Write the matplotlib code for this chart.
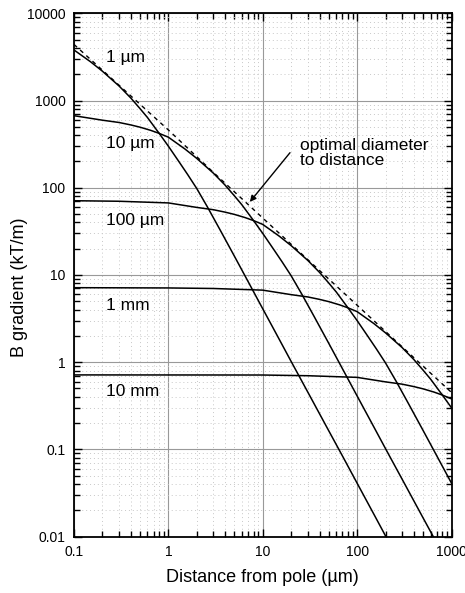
import matplotlib
matplotlib.use('Agg')
import matplotlib.pyplot as plt
from matplotlib.ticker import FixedLocator, LogLocator, NullFormatter

plt.rcParams['font.family'] = ['Liberation Sans', 'DejaVu Sans']

# values (distance in um, gradient in kT/m)
x_1um = [0.1, 0.15, 0.2, 0.3, 0.4, 0.5, 0.6, 0.8, 1.0, 1.3, 1.6, 2.0, 2.6, 3.5, 5, 7, 10, 14, 20, 30, 50, 70, 100, 150, 200, 220]
y_1um = [3800, 2780, 2170, 1470, 1070, 810, 640, 420, 300, 198, 142, 98, 60, 33.5, 16.5, 8.4, 4.1, 2.09, 1.02, 0.455, 0.164, 0.084, 0.041, 0.0182, 0.0102, 0.0085]

x_10um = [0.1, 0.2, 0.3, 0.4, 0.5, 0.65, 0.8, 1.0, 1.5, 2, 3, 4, 5, 6, 8, 10, 13, 16, 20, 26, 35, 50, 70, 100, 140, 200, 300, 500, 700]
y_10um = [670, 595, 560, 525, 495, 455, 420, 380, 278, 217, 147, 107, 81, 64, 42, 30, 19.8, 14.2, 9.8, 6.0, 3.35, 1.65, 0.84, 0.41, 0.209, 0.102, 0.0455, 0.0164, 0.0084]

x_100um = [0.1, 0.3, 1, 2, 3, 4, 5, 6.5, 8, 10, 15, 20, 30, 40, 50, 60, 80, 100, 130, 160, 200, 260, 350, 500, 700, 1000]
y_100um = [71, 70, 67, 59.5, 56, 52.5, 49.5, 45.5, 42, 38, 27.8, 21.7, 14.7, 10.7, 8.1, 6.4, 4.2, 3.0, 1.98, 1.42, 0.98, 0.60, 0.335, 0.165, 0.084, 0.041]

x_1mm = [0.1, 1, 3, 10, 20, 30, 40, 50, 65, 80, 100, 150, 200, 300, 400, 500, 600, 800, 1000]
y_1mm = [7.15, 7.1, 7.0, 6.7, 5.95, 5.6, 5.25, 4.95, 4.55, 4.2, 3.8, 2.78, 2.17, 1.47, 1.07, 0.81, 0.64, 0.42, 0.30]

x_10mm = [0.1, 10, 30, 100, 200, 300, 400, 500, 650, 800, 1000]
y_10mm = [0.715, 0.713, 0.70, 0.67, 0.595, 0.56, 0.525, 0.495, 0.455, 0.42, 0.38]

x_opt = [0.1, 0.3, 1, 3, 10, 30, 100, 300, 1000]
y_opt = [4400, 1500, 460, 150, 45, 15, 4.5, 1.5, 0.45]

curve_labels = ['1 µm', '10 µm', '100 µm', '1 mm', '10 mm']
label_y = [3100, 320, 42, 4.45, 0.46]

xticks = [0.1, 1, 10, 100, 1000]
xtick_labels = ['0.1', '1', '10', '100', '1000']
yticks = [0.01, 0.1, 1, 10, 100, 1000, 10000]
ytick_labels = ['0.01', '0.1', '1', '10', '100', '1000', '10000']

fig = plt.figure(figsize=(4.65, 5.93), dpi=100)
ax = fig.add_axes([0.159, 0.095, 0.812, 0.8826])

for xs, ys in [(x_1um, y_1um), (x_10um, y_10um), (x_100um, y_100um),
               (x_1mm, y_1mm), (x_10mm, y_10mm)]:
    ax.plot(xs, ys, color='black', lw=1.1)
ax.plot(x_opt, y_opt, color='black', lw=1.0, linestyle=(0, (3, 3)))

ax.set_xscale('log')
ax.set_yscale('log')
ax.set_xlim(0.1, 1000)
ax.set_ylim(0.01, 10000)

ax.xaxis.set_major_locator(FixedLocator(xticks))
ax.set_xticklabels(xtick_labels)
ax.yaxis.set_major_locator(FixedLocator(yticks))
ax.set_yticklabels(ytick_labels)
ax.xaxis.set_minor_locator(LogLocator(base=10, subs=range(2, 10)))
ax.yaxis.set_minor_locator(LogLocator(base=10, subs=range(2, 10)))
ax.xaxis.set_minor_formatter(NullFormatter())
ax.yaxis.set_minor_formatter(NullFormatter())

ax.tick_params(which='both', direction='in', top=True, right=True, labelsize=10, width=1)
ax.tick_params(which='major', length=6, pad=6)
ax.tick_params(which='minor', length=4)

ax.grid(which='major', color='#999999', lw=0.8)
ax.grid(which='minor', color='#c8c8c8', lw=0.7, linestyle=(0, (1, 3)))
ax.set_axisbelow(True)
for s in ax.spines.values():
    s.set_linewidth(1.3)

for lab, ly in zip(curve_labels, label_y):
    ax.text(0.22, ly, lab, fontsize=12.5, ha='left', va='center')

ax.text(24.8, 250, 'optimal diameter\nto distance', fontsize=12.5, ha='left', va='center',
        linespacing=1.0)
ax.annotate('', xy=(7.0, 65), xytext=(20.3, 267),
            arrowprops=dict(arrowstyle='-|>', color='black', lw=1.0, mutation_scale=9))

ax.set_xlabel('Distance from pole (µm)', fontsize=13)
ax.set_ylabel('B gradient (kT/m)', fontsize=13)
ax.xaxis.set_label_coords(0.5, -0.062)
ax.yaxis.set_label_coords(-0.1216, 0.477)

fig.savefig('out.png', dpi=100)
